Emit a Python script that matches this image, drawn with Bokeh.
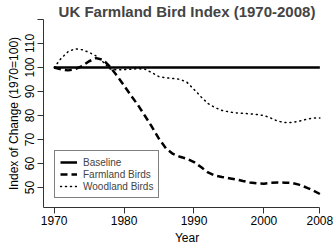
from bokeh.plotting import figure
from bokeh.models import Range1d, FixedTicker, Legend, LegendItem
from bokeh.embed import file_html
from bokeh.resources import INLINE

title_text = "UK Farmland Bird Index (1970-2008)"
x_label = "Year"
y_label = "Index of Change (1970=100)"

years = list(range(1970, 2009))
baseline_years = [1970, 2008]
baseline_values = [100, 100]

farmland = [100.0, 99.2, 98.8, 99.3, 100.6, 102.6, 103.9, 103.2, 100.3, 96.5,
            92.5, 88.3, 84.3, 79.8, 75.2, 70.3, 66.3, 64.0, 62.8, 62.0,
            60.6, 58.5, 56.3, 55.0, 54.4, 53.9, 53.4, 52.7, 52.1, 51.7,
            51.6, 52.0, 52.1, 52.0, 51.9, 51.2, 50.1, 48.8, 47.3]

woodland = [100.0, 103.8, 106.6, 107.8, 107.4, 106.3, 104.8, 102.3, 99.4, 99.0,
            99.1, 99.3, 99.5, 99.3, 97.8, 96.2, 95.7, 95.4, 95.1, 93.8,
            90.9, 87.8, 85.0, 83.3, 82.1, 81.5, 81.1, 80.9, 80.7, 80.4,
            80.0, 78.9, 77.6, 77.1, 77.1, 77.6, 78.4, 78.9, 79.0]

x_ticks = [1970, 1980, 1990, 2000, 2008]
y_ticks = [50, 60, 70, 80, 90, 100, 110, 120]
legend_labels = ["Baseline", "Farmland Birds", "Woodland Birds"]

FONT = "Liberation Sans"

p = figure(width=334, height=247, output_backend="svg", toolbar_location=None,
           x_range=Range1d(1968.48, 2009.52), y_range=Range1d(41.67, 120.0),
           min_border_left=43, min_border_right=4, min_border_top=0,
           min_border_bottom=40)

p.title.text = title_text
p.title.align = "center"
p.title.text_font = FONT
p.title.text_font_size = "15px"
p.title.text_font_style = "bold"
p.title.standoff = 0
p.title.offset = 0

p.outline_line_color = None
p.xgrid.visible = False
p.ygrid.visible = False
p.background_fill_color = "white"
p.border_fill_color = "white"

r0 = p.line(baseline_years, baseline_values, line_color="black", line_width=2.5)
r1 = p.line(years, farmland, line_color="black", line_width=2.5, line_dash="7 4")
r2 = p.line(years, woodland, line_color="black", line_width=1.5, line_dash="1 4",
            line_cap="round")

for ax in (p.xaxis[0], p.yaxis[0]):
    ax.axis_line_color = "#333333"
    ax.axis_line_width = 1
    ax.major_tick_line_color = "#333333"
    ax.major_tick_out = 6
    ax.major_tick_in = 0
    ax.minor_tick_line_color = None
    ax.major_label_text_font = FONT
    ax.major_label_text_font_size = "12px"
    ax.major_label_text_color = "black"
    ax.axis_label_text_font = FONT
    ax.axis_label_text_font_size = "12px"
    ax.axis_label_text_font_style = "normal"
    ax.axis_label_text_color = "black"

p.xaxis[0].ticker = FixedTicker(ticks=x_ticks)
p.xaxis[0].bounds = (1968.48, 2008)
p.xaxis[0].axis_label = x_label
p.xaxis[0].major_label_standoff = 2
p.xaxis[0].axis_label_standoff = 3

p.yaxis[0].ticker = FixedTicker(ticks=y_ticks)
p.yaxis[0].major_label_overrides = {120: ""}
p.yaxis[0].major_label_orientation = "vertical"
p.yaxis[0].axis_label = y_label
p.yaxis[0].major_label_standoff = 3
p.yaxis[0].axis_label_standoff = 2

legend = Legend(items=[LegendItem(label=legend_labels[0], renderers=[r0]),
                       LegendItem(label=legend_labels[1], renderers=[r1]),
                       LegendItem(label=legend_labels[2], renderers=[r2])],
                location=(11, 9), border_line_color="black", border_line_width=1,
                background_fill_color="white", background_fill_alpha=1.0,
                padding=5, spacing=0, label_height=12, glyph_height=12,
                glyph_width=17, label_standoff=6, margin=0,
                label_text_font=FONT, label_text_font_size="10px")
p.add_layout(legend)

open("out.html", "w").write(file_html(p, INLINE))
